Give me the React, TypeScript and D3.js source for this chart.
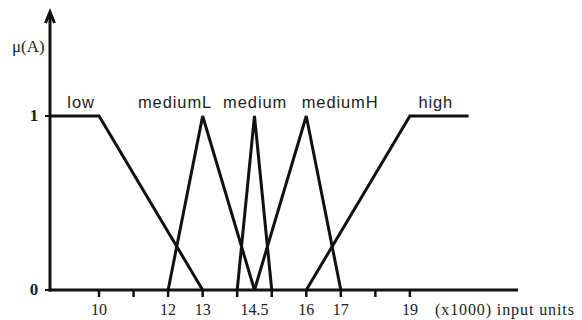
import React from "react";
import * as d3 from "d3";

// Membership function sets (x in thousands, membership 0..1)
const setNames = ["low", "mediumL", "medium", "mediumH", "high"];
const lowX = [8.58, 10, 13];
const lowY = [1, 1, 0];
const mediumLX = [12, 13, 14.5];
const mediumLY = [0, 1, 0];
const mediumX = [14, 14.5, 15];
const mediumY = [0, 1, 0];
const mediumHX = [14.5, 16, 17];
const mediumHY = [0, 1, 0];
const highX = [16, 19, 20.7];
const highY = [0, 1, 1];
const labelX = [9.48, 12.2, 14.52, 16.98, 19.75];

const tickValues = [10, 11, 12, 13, 14, 15, 16, 17, 18, 19];
const tickLabels = [10, 12, 13, 14.5, 16, 17, 19];
const yTicks = [0, 1];

const W = 582;
const H = 320;

export default function App() {
  const x = d3.scaleLinear().domain([8.58, 22.13]).range([50, 518]);
  const y = d3.scaleLinear().domain([0, 1]).range([290, 116]);
  const line = d3
    .line<[number, number]>()
    .x((d) => x(d[0]))
    .y((d) => y(d[1]));

  const series: [number[], number[]][] = [
    [lowX, lowY],
    [mediumLX, mediumLY],
    [mediumX, mediumY],
    [mediumHX, mediumHY],
    [highX, highY],
  ];

  const serif = "'Liberation Serif', 'Times New Roman', serif";
  const sans = "'Liberation Sans', Arial, sans-serif";
  const x0 = x(8.58);

  return (
    <svg
      width={W}
      height={H}
      style={{ position: "absolute", left: 0, top: 0, background: "#fff" }}
    >
      {/* membership functions */}
      {series.map(([xs, ys], i) => (
        <path
          key={setNames[i]}
          d={line(xs.map((v, j) => [v, ys[j]] as [number, number])) || ""}
          fill="none"
          stroke="#111"
          strokeWidth={3}
          strokeLinejoin="miter"
        />
      ))}

      {/* set labels */}
      {setNames.map((n, i) => (
        <text
          key={n}
          x={x(labelX[i])}
          y={108}
          textAnchor="middle"
          fontFamily={sans}
          fontSize={16.5}
          letterSpacing={0.9}
          fill="#222"
        >
          {n}
        </text>
      ))}

      {/* x axis */}
      <line x1={x0 - 1.5} x2={518} y1={y(0)} y2={y(0)} stroke="#111" strokeWidth={3} />
      {tickValues.map((t) => (
        <line
          key={t}
          x1={x(t)}
          x2={x(t)}
          y1={y(0)}
          y2={y(0) + 7}
          stroke="#111"
          strokeWidth={2.5}
        />
      ))}
      {tickLabels.map((t) => (
        <text
          key={t}
          x={x(t)}
          y={315}
          textAnchor="middle"
          fontFamily={serif}
          fontSize={16}
          fill="#222"
        >
          {String(t)}
        </text>
      ))}
      <text x={435} y={315} fontFamily={serif} fontSize={16} letterSpacing={0.9} fill="#222">
        (x1000) input units
      </text>

      {/* y axis */}
      <line x1={x0} x2={x0} y1={y(0) + 1.5} y2={13} stroke="#111" strokeWidth={3} />
      <path
        d={`M${x0 - 4.5},23 L${x0},12 L${x0 + 4.5},23`}
        fill="none"
        stroke="#111"
        strokeWidth={3}
      />
      {yTicks.map((t) => (
        <line
          key={t}
          x1={x0 - 5}
          x2={x0}
          y1={y(t)}
          y2={y(t)}
          stroke="#111"
          strokeWidth={2}
        />
      ))}
      {yTicks.map((t) => (
        <text
          key={"l" + t}
          x={x0 - 16}
          y={y(t) + 5}
          textAnchor="middle"
          fontFamily={serif}
          fontSize={17}
          fontWeight="bold"
          fill="#222"
        >
          {String(t)}
        </text>
      ))}
      <text x={12} y={52} fontFamily={serif} fontSize={17} fill="#222">
        μ(A)
      </text>
    </svg>
  );
}
